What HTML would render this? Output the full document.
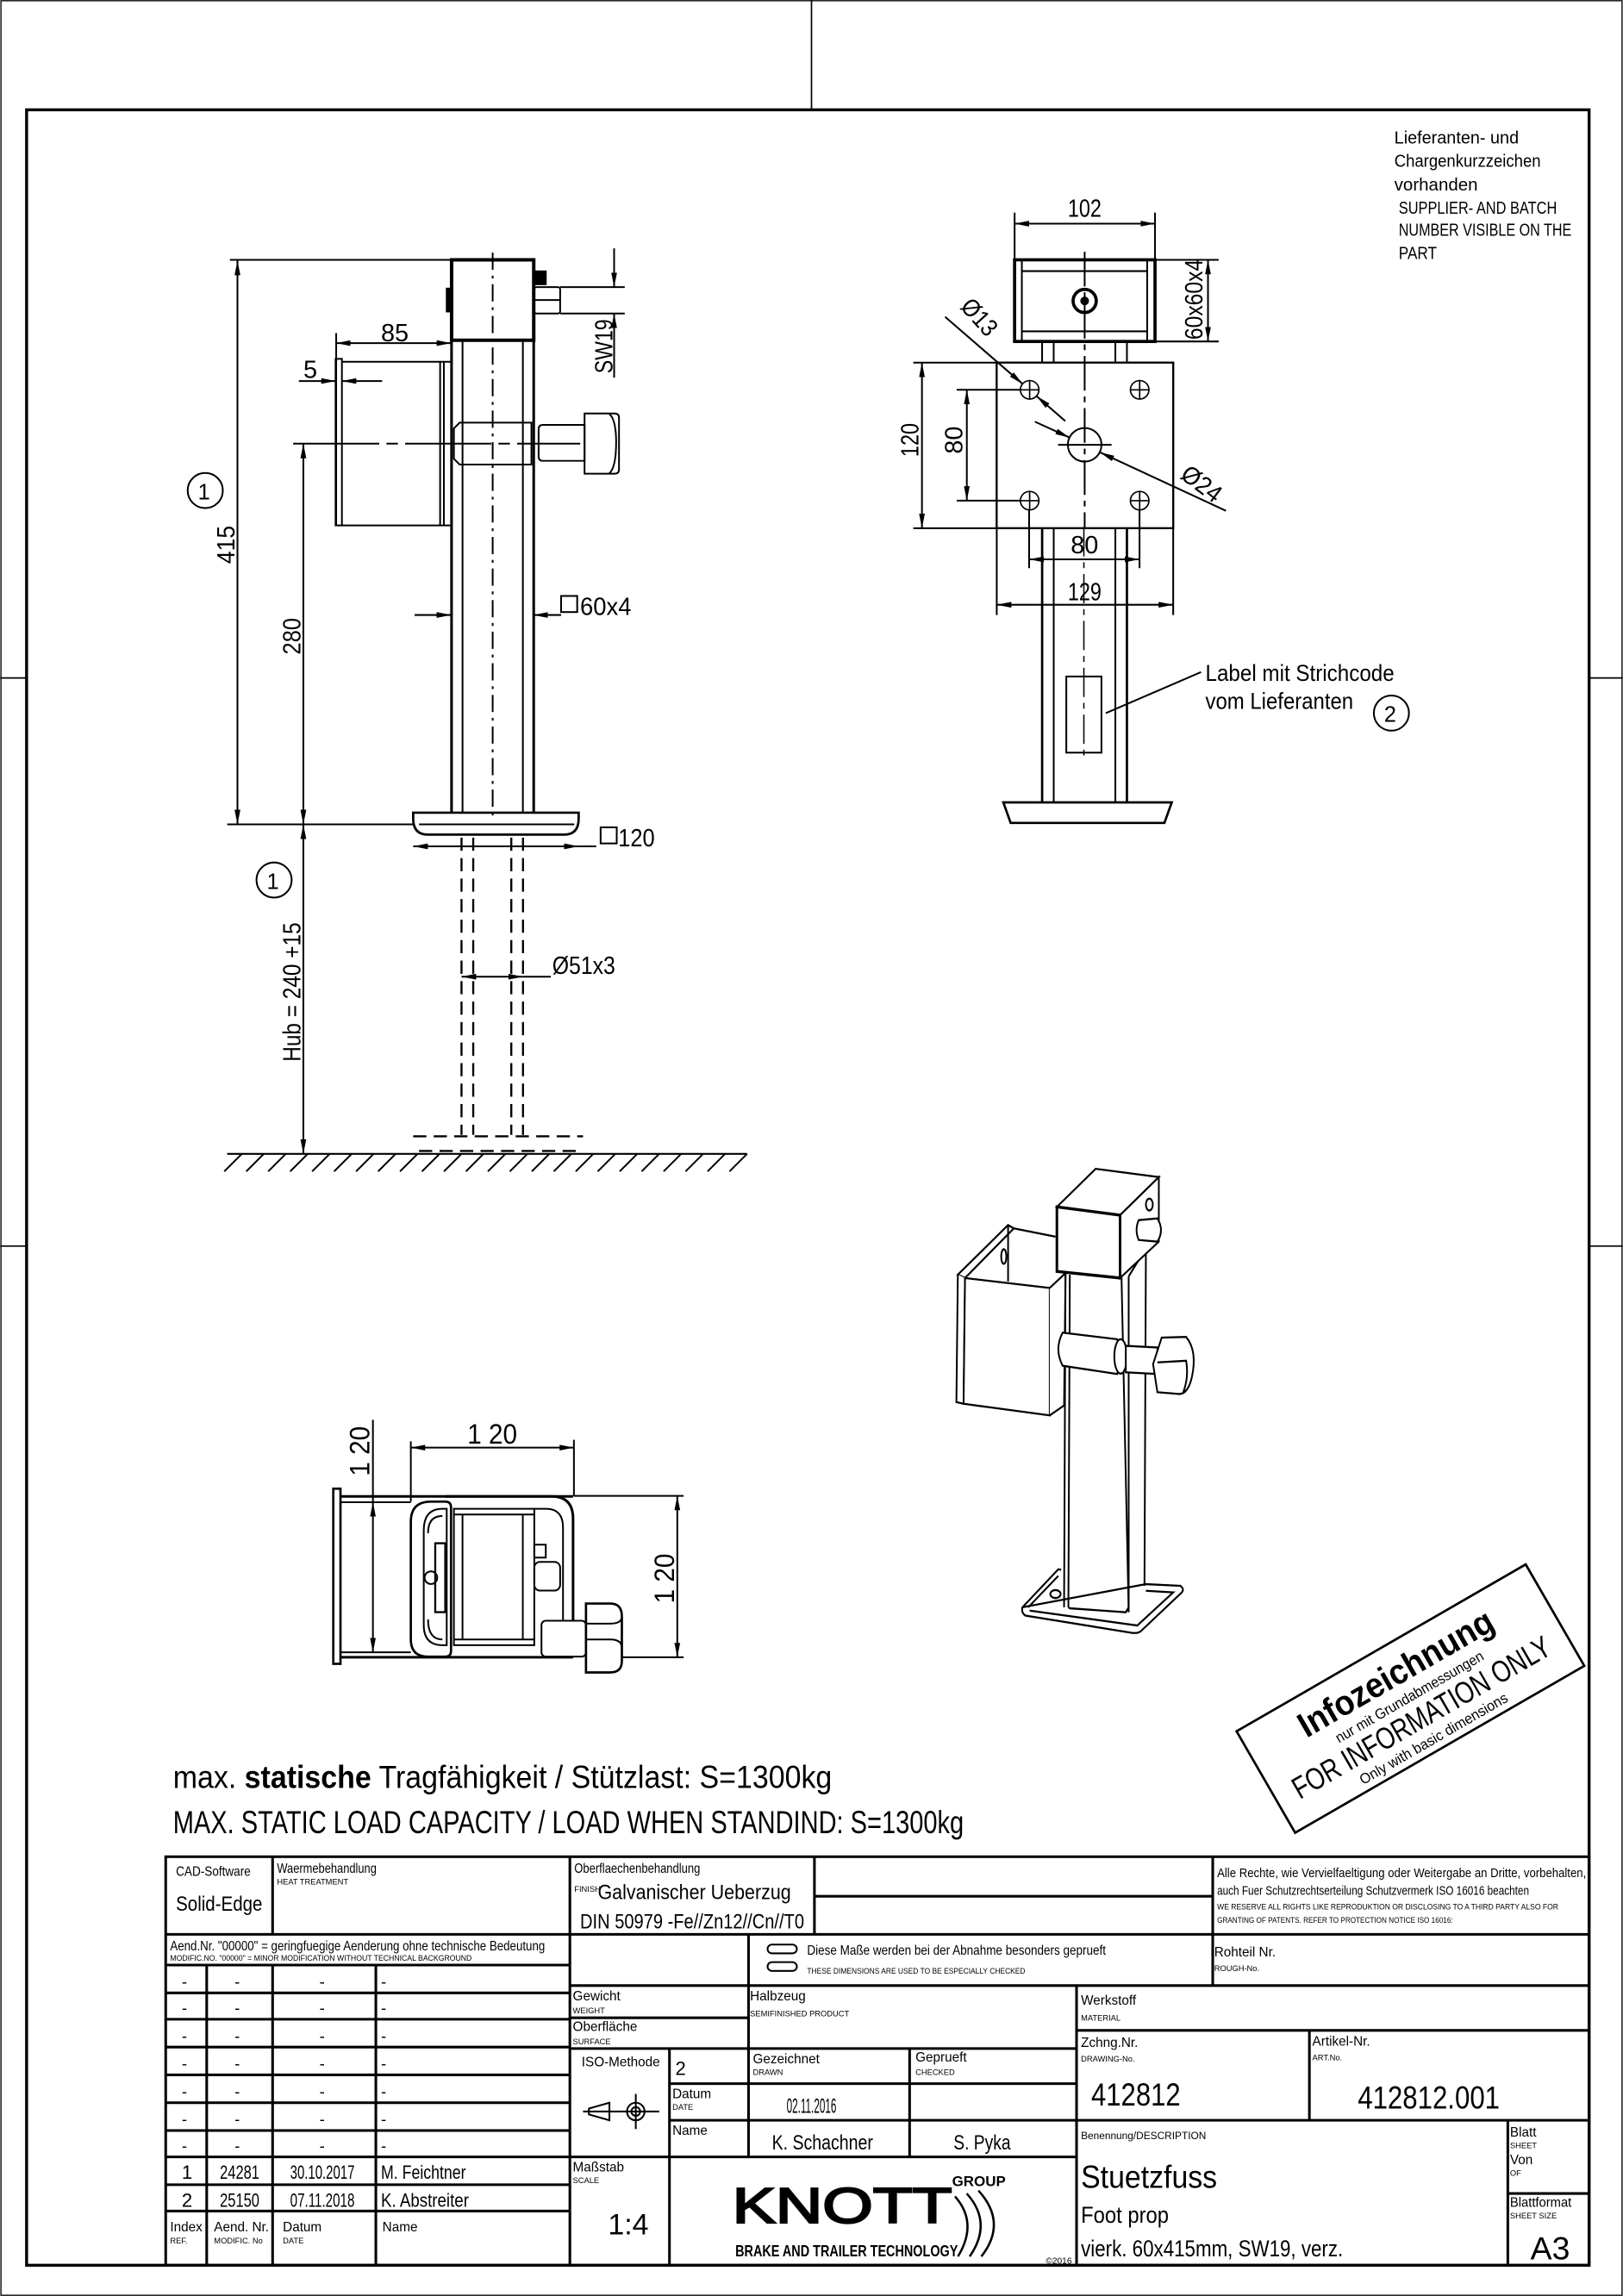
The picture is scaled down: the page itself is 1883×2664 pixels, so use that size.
<!DOCTYPE html>
<html><head><meta charset="utf-8"><style>
html,body{margin:0;padding:0;background:#fff}
svg{display:block}
text{font-family:"Liberation Sans",sans-serif;fill:#000}
</style></head><body>
<svg width="1883" height="2664" viewBox="0 0 1108 1568" xmlns="http://www.w3.org/2000/svg">
<defs>
<marker id="a" viewBox="0 0 10 4" refX="10" refY="2" markerWidth="10" markerHeight="4" markerUnits="userSpaceOnUse" orient="auto-start-reverse"><path d="M0,0L10,2L0,4z"/></marker>
<marker id="b" viewBox="0 0 10 4" refX="10" refY="2" markerWidth="50" markerHeight="20" markerUnits="userSpaceOnUse" orient="auto-start-reverse"><path d="M0,0L10,2L0,4z"/></marker>
</defs>
<rect width="1108" height="1568" fill="#fff"/>
<rect x="0.5" y="0.5" width="1107" height="1567" fill="none" stroke="#000" stroke-width="0.8"/>
<g stroke="#000" stroke-width="1" fill="none">
<line x1="554" y1="0" x2="554" y2="75"/>
<line x1="0" y1="463" x2="18" y2="463"/><line x1="0" y1="851" x2="18" y2="851"/>
<line x1="1085" y1="463" x2="1108" y2="463"/><line x1="1085" y1="851" x2="1108" y2="851"/>
</g>
<rect x="18" y="75" width="1067" height="1472" fill="none" stroke="#000" stroke-width="2"/>

<g font-size="12">
<text x="952" y="98" textLength="85" lengthAdjust="spacingAndGlyphs">Lieferanten- und</text>
<text x="952" y="114" textLength="100" lengthAdjust="spacingAndGlyphs">Chargenkurzzeichen</text>
<text x="952" y="130" textLength="57" lengthAdjust="spacingAndGlyphs">vorhanden</text>
<text x="955" y="146" textLength="108" lengthAdjust="spacingAndGlyphs">SUPPLIER- AND BATCH</text>
<text x="955" y="161" textLength="118" lengthAdjust="spacingAndGlyphs">NUMBER VISIBLE ON THE</text>
<text x="955" y="177" textLength="26" lengthAdjust="spacingAndGlyphs">PART</text>
</g>

<!-- SIDE VIEW -->
<g transform="translate(147.06,164.71) scale(0.19608)" stroke="#000" fill="none" stroke-width="6">
<line x1="50" y1="65" x2="822" y2="65"/>
<rect x="822" y="65" width="286" height="280" stroke-width="12"/>
<rect x="805" y="165" width="17" height="80" fill="#000"/>
<rect x="1110" y="105" width="40" height="45" fill="#000"/>
<rect x="1110" y="160" width="90" height="92" rx="8"/>
<line x1="1110" y1="205" x2="1200" y2="205"/>
<line x1="1200" y1="160" x2="1425" y2="160"/><line x1="1200" y1="252" x2="1425" y2="252"/>
<line x1="1388" y1="25" x2="1388" y2="160" marker-end="url(#b)"/>
<line x1="1388" y1="475" x2="1388" y2="252" marker-end="url(#b)"/>
<line x1="965" y1="40" x2="965" y2="2000" stroke-dasharray="60,20,10,20"/>
<line x1="420" y1="320" x2="420" y2="990"/>
<line x1="420" y1="355" x2="820" y2="355" marker-start="url(#b)" marker-end="url(#b)"/>
<path d="M418,410 H440 V990 H418 Z"/>
<line x1="440" y1="420" x2="820" y2="420"/><line x1="440" y1="990" x2="820" y2="990"/>
<line x1="782" y1="420" x2="782" y2="990"/><line x1="795" y1="420" x2="795" y2="990"/>
<line x1="290" y1="487" x2="418" y2="487" marker-end="url(#b)"/>
<line x1="580" y1="487" x2="440" y2="487" marker-end="url(#b)"/>
<line x1="270" y1="705" x2="1270" y2="705" stroke-dasharray="300,25,40,25"/>
<path d="M850,632 H1100 V778 H850 L830,758 V652 Z"/>
<path d="M1140,640 H1285 V765 H1140 Q1125,765 1125,750 V655 Q1125,640 1140,640Z"/>
<path d="M1285,600 H1390 Q1405,600 1405,615 V795 Q1405,810 1390,810 H1285 Z"/>
<path d="M1370,600 Q1395,620 1395,700 Q1395,790 1370,810"/>
</g>
<g stroke="#000" fill="none" stroke-width="1.2">
<line x1="308.2" y1="232" x2="308.2" y2="555" stroke-width="1.8"/>
<line x1="315.7" y1="232" x2="315.7" y2="555"/>
<line x1="356.9" y1="232" x2="356.9" y2="555"/>
<line x1="364.3" y1="232" x2="364.3" y2="555" stroke-width="1.8"/>
<line x1="162" y1="178" x2="162" y2="563" marker-start="url(#a)" marker-end="url(#a)"/>
<line x1="155" y1="563" x2="282" y2="563"/>
<line x1="207" y1="303" x2="207" y2="563" marker-start="url(#a)" marker-end="url(#a)"/>
<line x1="207" y1="563" x2="207" y2="788" marker-start="url(#a)" marker-end="url(#a)"/>
<path d="M282,555 H395 V559 Q395,570 385,570 H292 Q282,570 282,559 Z" stroke-width="1.6"/>
<line x1="286" y1="563" x2="392" y2="563"/>
<line x1="283" y1="420" x2="308" y2="420" marker-end="url(#a)"/>
<line x1="383" y1="420" x2="364" y2="420" marker-end="url(#a)"/>
<line x1="282" y1="578" x2="395" y2="578" marker-start="url(#a)" marker-end="url(#a)"/>
<line x1="395" y1="578" x2="407" y2="578"/>
<g stroke-dasharray="9,5" stroke-width="1.4">
<line x1="315" y1="572" x2="315" y2="775"/><line x1="323" y1="572" x2="323" y2="775"/>
<line x1="349" y1="572" x2="349" y2="775"/><line x1="357" y1="572" x2="357" y2="775"/>
<path d="M282,776 H398 M286,786 H394"/>
</g>
<line x1="315" y1="667" x2="357" y2="667" marker-start="url(#a)" marker-end="url(#a)"/>
<line x1="357" y1="667" x2="376" y2="667"/>
<line x1="155" y1="788" x2="510" y2="788"/>
<path d="M165,788 l-12,12 M180,788 l-12,12 M195,788 l-12,12 M210,788 l-12,12 M225,788 l-12,12 M240,788 l-12,12 M255,788 l-12,12 M270,788 l-12,12 M285,788 l-12,12 M300,788 l-12,12 M315,788 l-12,12 M330,788 l-12,12 M345,788 l-12,12 M360,788 l-12,12 M375,788 l-12,12 M390,788 l-12,12 M405,788 l-12,12 M420,788 l-12,12 M435,788 l-12,12 M450,788 l-12,12 M465,788 l-12,12 M480,788 l-12,12 M495,788 l-12,12 M510,788 l-12,12"/>
<circle cx="140" cy="335" r="12"/>
<circle cx="187" cy="601" r="12"/>
<rect x="383" y="407" width="11" height="11"/>
<rect x="410" y="565" width="11" height="11"/>
</g>
<g font-size="17">
<text x="260" y="233">85</text>
<text x="207" y="258">5</text>
<text transform="translate(418,255) rotate(-90)" textLength="37" lengthAdjust="spacingAndGlyphs">SW19</text>
<text x="396" y="420" textLength="35" lengthAdjust="spacingAndGlyphs">60x4</text>
<text x="422" y="578" textLength="25" lengthAdjust="spacingAndGlyphs">120</text>
<text x="377" y="665" textLength="43" lengthAdjust="spacingAndGlyphs">Ø51x3</text>
<text transform="translate(160,385) rotate(-90)" textLength="26" lengthAdjust="spacingAndGlyphs">415</text>
<text transform="translate(205,447) rotate(-90)" textLength="25" lengthAdjust="spacingAndGlyphs">280</text>
<text transform="translate(205,725) rotate(-90)" textLength="95" lengthAdjust="spacingAndGlyphs">Hub = 240 +15</text>
<text x="135" y="341" font-size="15">1</text>
<text x="182" y="607" font-size="15">1</text>
</g>

<!-- TOP VIEW -->
<g transform="translate(623.5,129.4) scale(0.1977)" stroke="#000" fill="none" stroke-width="6">
<line x1="350" y1="80" x2="350" y2="243"/><line x1="835" y1="80" x2="835" y2="243"/>
<line x1="350" y1="118" x2="835" y2="118" marker-start="url(#b)" marker-end="url(#b)"/>
<rect x="350" y="243" width="485" height="282" stroke-width="11"/>
<line x1="375" y1="243" x2="375" y2="525"/><line x1="808" y1="243" x2="808" y2="525"/>
<line x1="375" y1="282" x2="808" y2="282"/><line x1="375" y1="490" x2="808" y2="490"/>
<circle cx="592" cy="385" r="40" stroke-width="11"/><circle cx="592" cy="385" r="12" fill="#000"/>
<line x1="592" y1="215" x2="592" y2="1170" stroke-dasharray="120,20,20,20"/>
<line x1="835" y1="243" x2="1055" y2="243"/><line x1="835" y1="525" x2="1055" y2="525"/>
<line x1="1018" y1="243" x2="1018" y2="525" marker-start="url(#b)" marker-end="url(#b)"/>
<line x1="445" y1="525" x2="445" y2="598"/><line x1="485" y1="525" x2="485" y2="598"/>
<line x1="698" y1="525" x2="698" y2="598"/><line x1="738" y1="525" x2="738" y2="598"/>
<rect x="288" y="598" width="610" height="572" stroke-width="7"/>
<g stroke-width="5">
<circle cx="402" cy="692" r="32"/><path d="M370,692H434M402,660V724"/>
<circle cx="782" cy="692" r="32"/><path d="M750,692H814M782,660V724"/>
<circle cx="402" cy="1075" r="32"/><path d="M370,1075H434M402,1043V1107"/>
<circle cx="782" cy="1075" r="32"/><path d="M750,1075H814M782,1043V1107"/>
</g>
<circle cx="592" cy="882" r="58"/>
<line x1="500" y1="882" x2="685" y2="882"/>
<line x1="0" y1="598" x2="288" y2="598"/><line x1="0" y1="1170" x2="288" y2="1170"/>
<line x1="30" y1="598" x2="30" y2="1170" marker-start="url(#b)" marker-end="url(#b)"/>
<line x1="150" y1="692" x2="370" y2="692"/><line x1="150" y1="1075" x2="370" y2="1075"/>
<line x1="185" y1="692" x2="185" y2="1075" marker-start="url(#b)" marker-end="url(#b)"/>
<line x1="110" y1="440" x2="378" y2="672" marker-end="url(#b)"/>
<line x1="525" y1="800" x2="426" y2="714" marker-end="url(#b)"/>
<line x1="420" y1="802" x2="540" y2="857" marker-end="url(#b)"/>
<line x1="1080" y1="1110" x2="645" y2="908" marker-end="url(#b)"/>
</g>
<g font-size="17">
<text x="729" y="148" textLength="23" lengthAdjust="spacingAndGlyphs">102</text>
<text transform="translate(821,232) rotate(-90)" textLength="55" lengthAdjust="spacingAndGlyphs">60x60x4</text>
<text transform="translate(655,210) rotate(48)" textLength="28" lengthAdjust="spacingAndGlyphs">Ø13</text>
<text transform="translate(805,326) rotate(37)" textLength="30" lengthAdjust="spacingAndGlyphs">Ø24</text>
<text transform="translate(627,312) rotate(-90)" textLength="23" lengthAdjust="spacingAndGlyphs">120</text>
<text transform="translate(657,310) rotate(-90)">80</text>
<text x="731" y="378">80</text>
<text x="729" y="410" textLength="23" lengthAdjust="spacingAndGlyphs">129</text>
</g>
<g stroke="#000" fill="none" stroke-width="1.2">
<line x1="711.5" y1="361" x2="711.5" y2="548" stroke-width="1.6"/>
<line x1="719.4" y1="361" x2="719.4" y2="548"/>
<line x1="761.5" y1="361" x2="761.5" y2="548"/>
<line x1="769.4" y1="361" x2="769.4" y2="548" stroke-width="1.6"/>
<line x1="702.6" y1="348" x2="702.6" y2="388"/><line x1="778" y1="348" x2="778" y2="388"/>
<line x1="702.6" y1="382" x2="778" y2="382" marker-start="url(#a)" marker-end="url(#a)"/>
<line x1="680.5" y1="361" x2="680.5" y2="420"/><line x1="801" y1="361" x2="801" y2="420"/>
<line x1="680.5" y1="413" x2="801" y2="413" marker-start="url(#a)" marker-end="url(#a)"/>
<rect x="728" y="462" width="24" height="52"/>
<line x1="740" y1="360" x2="740" y2="520" stroke-dasharray="20,4,4,4" stroke-width="0.9"/>
<line x1="755" y1="487" x2="820" y2="459"/>
<path d="M685,548 H800 L795,562 H690 Z" stroke-width="1.6"/>
<circle cx="950" cy="487" r="12"/>
</g>
<g font-size="16">
<text x="823" y="465" textLength="129" lengthAdjust="spacingAndGlyphs">Label mit Strichcode</text>
<text x="823" y="484" textLength="101" lengthAdjust="spacingAndGlyphs">vom Lieferanten</text>
<text x="945" y="493" font-size="15">2</text>
</g>

<!-- BOTTOM VIEW -->
<g transform="translate(211.76,952.94) scale(0.19608)" stroke="#000" fill="none" stroke-width="6">
<rect x="80" y="325" width="25" height="610" stroke-width="8"/>
<line x1="105" y1="352" x2="915" y2="352" stroke-width="9"/>
<line x1="105" y1="912" x2="915" y2="912" stroke-width="9"/>
<line x1="105" y1="372" x2="350" y2="372"/><line x1="105" y1="895" x2="350" y2="895"/>
<line x1="218" y1="85" x2="218" y2="372"/>
<line x1="218" y1="372" x2="218" y2="895" marker-start="url(#b)" marker-end="url(#b)"/>
<line x1="350" y1="160" x2="350" y2="370"/><line x1="918" y1="155" x2="918" y2="352"/>
<line x1="350" y1="182" x2="918" y2="182" marker-start="url(#b)" marker-end="url(#b)"/>
<path d="M350,440 Q350,370 420,370 H470 Q490,370 490,390 V890 Q490,910 470,910 H410 Q350,910 350,850 Z" stroke-width="8"/>
<path d="M470,352 H840 Q915,352 915,430 V785" stroke-width="9"/>
<path d="M395,470 Q395,395 460,395 H475 V870 H460 Q395,870 395,800 Z"/>
<path d="M410,480 Q410,420 460,420 M410,780 Q410,850 460,850"/>
<rect x="500" y="395" width="280" height="475"/>
<line x1="500" y1="415" x2="780" y2="415"/><line x1="500" y1="850" x2="780" y2="850"/>
<line x1="530" y1="415" x2="530" y2="850"/><line x1="740" y1="415" x2="740" y2="850"/>
<path d="M780,395 H820 Q880,395 880,460 V785"/>
<rect x="435" y="515" width="35" height="240" stroke-width="7"/>
<circle cx="420" cy="635" r="22"/>
<rect x="780" y="580" width="90" height="100" rx="20"/>
<rect x="780" y="520" width="40" height="45"/>
<rect x="805" y="785" width="155" height="125" rx="15"/>
<path d="M960,725 H1045 Q1085,725 1085,770 V925 Q1085,965 1045,965 H960 Z" stroke-width="8"/>
<path d="M960,850 H1045 Q1085,850 1085,880 M960,795 H1045 Q1085,795 1085,770"/>
<line x1="918" y1="350" x2="1300" y2="350"/><line x1="1085" y1="912" x2="1300" y2="912"/>
<line x1="1278" y1="350" x2="1278" y2="912" marker-start="url(#b)" marker-end="url(#b)"/>
</g>
<g font-size="19">
<text x="319" y="986" textLength="34" lengthAdjust="spacingAndGlyphs">1 20</text>
<text transform="translate(252,1008) rotate(-90)" textLength="34" lengthAdjust="spacingAndGlyphs">1 20</text>
<text transform="translate(460,1095) rotate(-90)" textLength="34" lengthAdjust="spacingAndGlyphs">1 20</text>
</g>

<!-- ISO VIEW -->
<g transform="translate(635.3,782.4) scale(0.19608,0.226)" stroke="#000" fill="none" stroke-width="6">
<path d="M95,390 L270,240 L290,250 L120,400 Z" fill="#fff"/>
<path d="M270,240 V410 M290,250 L435,275"/>
<ellipse cx="255" cy="335" rx="9" ry="22"/>
<path d="M95,390 L90,775 L115,780 L120,400" fill="#fff"/>
<path d="M120,400 L415,430 L415,815 L115,780 Z" fill="#fff"/>
<path d="M415,430 L470,385 L465,785 L415,815" fill="#fff"/>
<path d="M470,385 L465,1395 M485,390 L480,1395 M665,395 L690,1410 M690,395 L690,1410 M750,310 L745,1330 M690,395 L750,310"/>
<path d="M440,185 L575,70 L795,95 L660,210 Z" fill="#fff"/>
<path d="M660,210 L795,95 L795,290 L660,400 Z" fill="#fff"/>
<path d="M440,185 L660,210 L660,400 L440,380 Z" fill="#fff" stroke-width="9"/>
<ellipse cx="762" cy="178" rx="12" ry="18"/>
<path d="M725,225 L790,220 Q815,255 790,290 L725,285 Q710,255 725,225 Z" fill="#fff"/>
<path d="M460,565 L650,585 Q670,635 650,690 L460,665 Q430,615 460,565 Z" fill="#fff"/>
<ellipse cx="662" cy="637" rx="22" ry="52" fill="#fff"/>
<path d="M680,605 L790,610 L790,690 L680,685 Z" fill="#fff"/>
<path d="M805,580 L890,578 Q930,620 910,700 Q895,755 860,750 L790,745 L775,660 Z" fill="#fff"/>
<path d="M790,655 L890,650 Q900,700 880,745"/>
<path d="M320,1395 L445,1280 L455,1282 M750,1325 L870,1330 Q885,1340 875,1350 L735,1465 Q725,1475 700,1472 L330,1420 Q315,1410 320,1395 Z"/>
<path d="M340,1395 L445,1300 M750,1345 L845,1350 L720,1450 L345,1405"/>
<path d="M480,1395 L485,1398 L680,1410 L690,1395"/>
<ellipse cx="435" cy="1355" rx="18" ry="12"/>
</g>

<!-- STAMP -->
<g transform="translate(963,1160) rotate(-30)">
<rect x="-114" y="-40" width="228" height="80" fill="none" stroke="#000" stroke-width="1.6"/>
<text x="0" y="-12" font-size="24" text-anchor="middle" font-weight="bold" textLength="150" lengthAdjust="spacingAndGlyphs">Infozeichnung</text>
<text x="0" y="2" font-size="10" text-anchor="middle" textLength="115" lengthAdjust="spacingAndGlyphs">nur mit Grundabmessungen</text>
<text x="0" y="22" font-size="21" text-anchor="middle" textLength="200" lengthAdjust="spacingAndGlyphs">FOR INFORMATION ONLY</text>
<text x="0" y="35" font-size="10" text-anchor="middle" textLength="115" lengthAdjust="spacingAndGlyphs">Only with basic dimensions</text>
</g>

<text x="118" y="1221" font-size="22" textLength="450" lengthAdjust="spacingAndGlyphs">max. <tspan font-weight="bold">statische</tspan> Tragfähigkeit / Stützlast: S=1300kg</text>
<text x="118" y="1252" font-size="22" textLength="540" lengthAdjust="spacingAndGlyphs">MAX. STATIC LOAD CAPACITY / LOAD WHEN STANDIND: S=1300kg</text>

<!-- TITLE BLOCK -->
<g stroke="#000" stroke-width="1.8" fill="none">
<rect x="113" y="1268" width="972" height="279"/>
<line x1="186" y1="1268" x2="186" y2="1321"/>
<line x1="389" y1="1268" x2="389" y2="1547"/>
<line x1="556" y1="1268" x2="556" y2="1321"/>
<line x1="556" y1="1295" x2="828" y2="1295"/>
<line x1="828" y1="1268" x2="828" y2="1356"/>
<line x1="113" y1="1321" x2="1085" y2="1321"/>
<line x1="113" y1="1342" x2="389" y2="1342"/>
<line x1="113" y1="1361" x2="389" y2="1361"/>
<line x1="113" y1="1379" x2="389" y2="1379"/>
<line x1="113" y1="1398" x2="389" y2="1398"/>
<line x1="113" y1="1417" x2="389" y2="1417"/>
<line x1="113" y1="1436" x2="389" y2="1436"/>
<line x1="113" y1="1455" x2="389" y2="1455"/>
<line x1="113" y1="1473" x2="389" y2="1473"/>
<line x1="113" y1="1492" x2="389" y2="1492"/>
<line x1="113" y1="1510" x2="389" y2="1510"/>
<line x1="141" y1="1342" x2="141" y2="1547"/>
<line x1="186" y1="1342" x2="186" y2="1547"/>
<line x1="256.5" y1="1342" x2="256.5" y2="1547"/>
<line x1="511" y1="1321" x2="511" y2="1473"/>
<line x1="389" y1="1356" x2="1085" y2="1356"/>
<line x1="389" y1="1378" x2="511" y2="1378"/>
<line x1="389" y1="1399" x2="735" y2="1399"/>
<line x1="735" y1="1356" x2="735" y2="1547"/>
<line x1="735" y1="1386.6" x2="1085" y2="1386.6"/>
<line x1="894" y1="1386.6" x2="894" y2="1448"/>
<line x1="457" y1="1399" x2="457" y2="1547"/>
<line x1="457" y1="1423" x2="735" y2="1423"/>
<line x1="457" y1="1448" x2="1085" y2="1448"/>
<line x1="389" y1="1473" x2="735" y2="1473"/>
<line x1="621" y1="1399" x2="621" y2="1473"/>
<line x1="1029.5" y1="1448" x2="1029.5" y2="1547"/>
<line x1="1029.5" y1="1498" x2="1085" y2="1498"/>
</g>
<g stroke="#000" fill="none" stroke-width="1.2">
<rect x="524" y="1328" width="20" height="6" rx="3"/>
<rect x="524" y="1340" width="20" height="6" rx="3"/>
<path d="M402,1440 L416,1436 V1448 L402,1444 Z"/>
<line x1="398" y1="1442" x2="450" y2="1442"/>
<circle cx="434" cy="1442" r="6"/><circle cx="434" cy="1442" r="3"/>
<line x1="434" y1="1430" x2="434" y2="1454"/>
</g>
<g font-size="9">
<text x="120" y="1281" textLength="51" lengthAdjust="spacingAndGlyphs">CAD-Software</text>
<text x="120" y="1305" font-size="14" textLength="59" lengthAdjust="spacingAndGlyphs">Solid-Edge</text>
<text x="189" y="1279" textLength="68" lengthAdjust="spacingAndGlyphs">Waermebehandlung</text>
<text x="189" y="1287" font-size="5.5">HEAT TREATMENT</text>
<text x="392" y="1279" textLength="86" lengthAdjust="spacingAndGlyphs">Oberflaechenbehandlung</text>
<text x="392" y="1292" font-size="5.5">FINISH</text>
<text x="408" y="1297" font-size="14" textLength="132" lengthAdjust="spacingAndGlyphs">Galvanischer Ueberzug</text>
<text x="396" y="1317" font-size="14" textLength="153" lengthAdjust="spacingAndGlyphs">DIN 50979 -Fe//Zn12//Cn//T0</text>
<text x="831" y="1282" font-size="8.5" textLength="252" lengthAdjust="spacingAndGlyphs">Alle Rechte, wie Vervielfaeltigung oder Weitergabe an Dritte, vorbehalten,</text>
<text x="831" y="1294" font-size="8.5" textLength="213" lengthAdjust="spacingAndGlyphs">auch Fuer Schutzrechtserteilung Schutzvermerk ISO 16016 beachten</text>
<text x="831" y="1304" font-size="5.5" textLength="233" lengthAdjust="spacingAndGlyphs">WE RESERVE ALL RIGHTS LIKE REPRODUKTION OR DISCLOSING TO A THIRD PARTY ALSO FOR</text>
<text x="831" y="1313" font-size="5.5" textLength="161" lengthAdjust="spacingAndGlyphs">GRANTING OF PATENTS. REFER TO PROTECTION NOTICE ISO 16016:</text>
<text x="116" y="1332" font-size="9.5" textLength="256" lengthAdjust="spacingAndGlyphs">Aend.Nr. "00000" = geringfuegige Aenderung ohne technische Bedeutung</text>
<text x="116" y="1339" font-size="5.5" textLength="206" lengthAdjust="spacingAndGlyphs">MODIFIC.NO. "00000" = MINOR MODIFICATION WITHOUT TECHNICAL BACKGROUND</text>
<text x="551" y="1335" font-size="9.5" textLength="204" lengthAdjust="spacingAndGlyphs">Diese Maße werden bei der Abnahme besonders geprueft</text>
<text x="551" y="1348" font-size="5.5" textLength="149" lengthAdjust="spacingAndGlyphs">THESE DIMENSIONS ARE USED TO BE ESPECIALLY CHECKED</text>
<text x="829" y="1336">Rohteil Nr.</text>
<text x="829" y="1346" font-size="5.5">ROUGH-No.</text>
<text x="391" y="1366">Gewicht</text><text x="391" y="1375" font-size="5.5">WEIGHT</text>
<text x="391" y="1387">Oberfläche</text><text x="391" y="1396" font-size="5.5">SURFACE</text>
<text x="512" y="1366">Halbzeug</text><text x="512" y="1377" font-size="5.5">SEMIFINISHED PRODUCT</text>
<text x="738" y="1369">Werkstoff</text><text x="738" y="1380" font-size="5.5">MATERIAL</text>
<text x="738" y="1398">Zchng.Nr.</text><text x="738" y="1408" font-size="5.5">DRAWING-No.</text>
<text x="896" y="1397">Artikel-Nr.</text><text x="896" y="1407" font-size="5.5">ART.No.</text>
<text x="745" y="1438" font-size="22" textLength="61" lengthAdjust="spacingAndGlyphs">412812</text>
<text x="927" y="1440" font-size="22" textLength="97" lengthAdjust="spacingAndGlyphs">412812.001</text>
<text x="397" y="1411">ISO-Methode</text>
<text x="461" y="1417" font-size="13">2</text>
<text x="514" y="1409">Gezeichnet</text><text x="514" y="1417" font-size="5.5">DRAWN</text>
<text x="625" y="1408">Geprueft</text><text x="625" y="1417" font-size="5.5">CHECKED</text>
<text x="459" y="1433">Datum</text><text x="459" y="1441" font-size="5.5">DATE</text>
<text x="537" y="1443" font-size="14" textLength="34" lengthAdjust="spacingAndGlyphs">02.11.2016</text>
<text x="459" y="1458">Name</text>
<text x="527" y="1468" font-size="14" textLength="69" lengthAdjust="spacingAndGlyphs">K. Schachner</text>
<text x="651" y="1468" font-size="14" textLength="39" lengthAdjust="spacingAndGlyphs">S. Pyka</text>
<text x="738" y="1461" font-size="7">Benennung/DESCRIPTION</text>
<text x="738" y="1494" font-size="22" textLength="93" lengthAdjust="spacingAndGlyphs">Stuetzfuss</text>
<text x="738" y="1518" font-size="16" textLength="60" lengthAdjust="spacingAndGlyphs">Foot prop</text>
<text x="738" y="1541" font-size="16" textLength="179" lengthAdjust="spacingAndGlyphs">vierk. 60x415mm, SW19, verz.</text>
<text x="1031" y="1459">Blatt</text><text x="1031" y="1467" font-size="5.5">SHEET</text>
<text x="1031" y="1478">Von</text><text x="1031" y="1486" font-size="5.5">OF</text>
<text x="1031" y="1507" textLength="42" lengthAdjust="spacingAndGlyphs">Blattformat</text><text x="1031" y="1515" font-size="5.5">SHEET SIZE</text>
<text x="1045" y="1543" font-size="22">A3</text>
<text x="391" y="1483">Maßstab</text><text x="391" y="1491" font-size="5.5">SCALE</text>
<text x="415" y="1526" font-size="20">1:4</text>
<text x="116" y="1524">Index</text><text x="116" y="1532" font-size="5.5">REF.</text>
<text x="146" y="1524">Aend. Nr.</text><text x="146" y="1532" font-size="5.5">MODIFIC. No</text>
<text x="193" y="1524">Datum</text><text x="193" y="1532" font-size="5.5">DATE</text>
<text x="261" y="1524">Name</text>
</g>
<g font-size="11">
<text x="124" y="1357">-</text><text x="160" y="1357">-</text><text x="218" y="1357">-</text><text x="260" y="1357">-</text>
<text x="124" y="1375">-</text><text x="160" y="1375">-</text><text x="218" y="1375">-</text><text x="260" y="1375">-</text>
<text x="124" y="1394">-</text><text x="160" y="1394">-</text><text x="218" y="1394">-</text><text x="260" y="1394">-</text>
<text x="124" y="1413">-</text><text x="160" y="1413">-</text><text x="218" y="1413">-</text><text x="260" y="1413">-</text>
<text x="124" y="1432">-</text><text x="160" y="1432">-</text><text x="218" y="1432">-</text><text x="260" y="1432">-</text>
<text x="124" y="1451">-</text><text x="160" y="1451">-</text><text x="218" y="1451">-</text><text x="260" y="1451">-</text>
<text x="124" y="1469">-</text><text x="160" y="1469">-</text><text x="218" y="1469">-</text><text x="260" y="1469">-</text>
</g>
<g font-size="13">
<text x="124" y="1488">1</text><text x="150" y="1488" textLength="27" lengthAdjust="spacingAndGlyphs">24281</text><text x="198" y="1488" textLength="44" lengthAdjust="spacingAndGlyphs">30.10.2017</text><text x="260" y="1488" textLength="58" lengthAdjust="spacingAndGlyphs">M.  Feichtner</text>
<text x="124" y="1507">2</text><text x="150" y="1507" textLength="27" lengthAdjust="spacingAndGlyphs">25150</text><text x="198" y="1507" textLength="44" lengthAdjust="spacingAndGlyphs">07.11.2018</text><text x="260" y="1507" textLength="60" lengthAdjust="spacingAndGlyphs">K.  Abstreiter</text>
</g>
<text x="500" y="1518" font-size="34" fill="#fff" stroke="#000" stroke-width="1.3" textLength="150" lengthAdjust="spacingAndGlyphs">KNOTT</text>
<text x="502" y="1541" font-size="11" font-weight="bold" textLength="152" lengthAdjust="spacingAndGlyphs">BRAKE AND TRAILER TECHNOLOGY</text>
<text x="650" y="1493" font-size="10" font-weight="bold">GROUP</text>
<g stroke="#000" fill="none" stroke-width="1.5">
<path d="M652,1500 Q668,1518 654,1541"/><path d="M660,1498 Q678,1518 662,1541"/><path d="M668,1496 Q688,1518 670,1541"/>
</g>
<text x="714" y="1546" font-size="6">©2016</text>
</svg>
</body></html>
